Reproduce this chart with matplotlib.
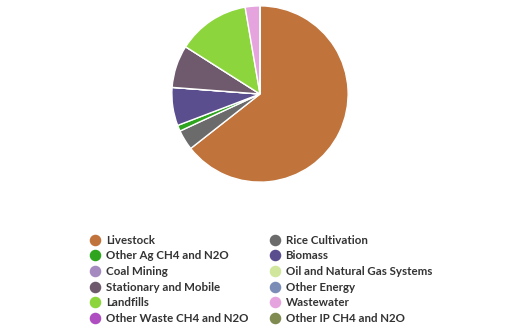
import matplotlib.pyplot as plt
from matplotlib.lines import Line2D

# sources of emissions, in legend order (row by row)
labels = ['Livestock', 'Rice Cultivation', 'Other Ag CH4 and N2O', 'Biomass',
          'Coal Mining', 'Oil and Natural Gas Systems', 'Stationary and Mobile',
          'Other Energy', 'Landfills', 'Wastewater', 'Other Waste CH4 and N2O',
          'Other IP CH4 and N2O']
shares = [64.4, 3.7, 1.1, 7.0, 0.0, 0.0, 7.8, 0.0, 13.3, 2.7, 0.0, 0.0]
colors = ['#c0733b', '#6b6b6b', '#2fa51f', '#5a4e8e', '#a58ac0', '#cfe69c',
          '#6e5a6c', '#7b8db6', '#8cd53d', '#e6a4df', '#ae4ec0', '#7f8b50']

fig = plt.figure(figsize=(5.28, 3.31), dpi=100)
ax = fig.add_axes([171 / 528, 1 - 183 / 331, 178 / 528, 178 / 331])
ax.pie(shares, colors=colors, startangle=90, counterclock=False,
       wedgeprops=dict(edgecolor='white', linewidth=1))
ax.set_xlim(-1.01, 1.01)
ax.set_ylim(-1.01, 1.01)
ax.set_aspect('equal')

handles = [Line2D([], [], marker='o', linestyle='', markersize=7.3,
                  markerfacecolor=c, markeredgecolor=c) for c in colors]
# legend fills columns first, so reorder to read row by row
order = list(range(0, 12, 2)) + list(range(1, 12, 2))
fig.legend([handles[i] for i in order], [labels[i] for i in order],
           ncol=2, loc='upper left', bbox_to_anchor=(82 / 528, 1 - 229 / 331),
           frameon=False, prop=dict(family='Lato', size=8.3, weight='bold'),
           labelcolor='#333333', handletextpad=0.35, handlelength=1.2,
           labelspacing=0.4, columnspacing=1.7, borderpad=0)

fig.savefig('out.png', dpi=100)
